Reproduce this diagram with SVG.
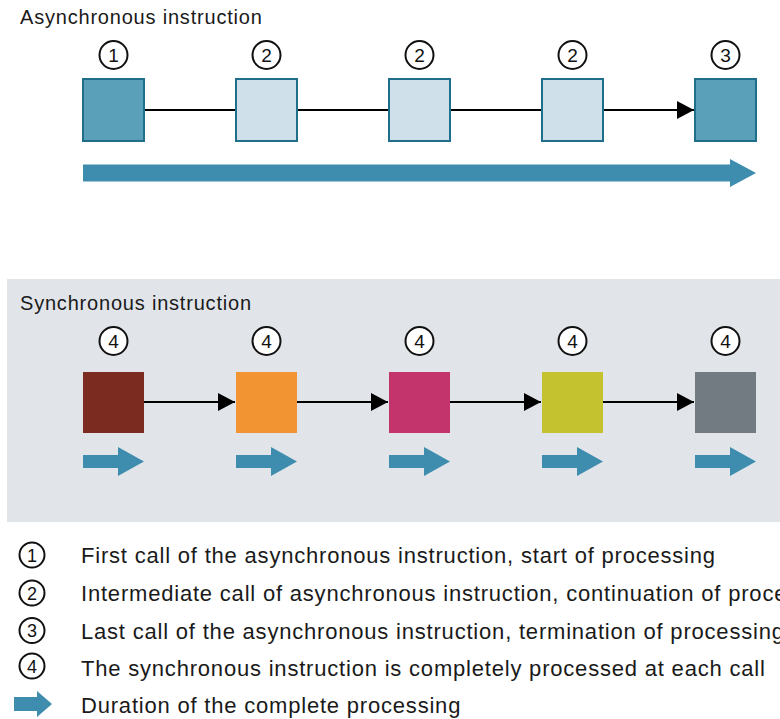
<svg xmlns="http://www.w3.org/2000/svg" width="780" height="719" viewBox="0 0 780 719">
<defs>
<style>
.t{font-family:"Liberation Sans",Arial,sans-serif;fill:#1a1a1a}
.title{font-size:20px;letter-spacing:0.8px}
.leg{font-size:22px;letter-spacing:0.8px}
.num{font-family:"Liberation Sans",Arial,sans-serif;font-size:19px;fill:#111;text-anchor:middle}
.lnum{font-family:"Liberation Sans",Arial,sans-serif;font-size:18px;fill:#111;text-anchor:middle}
.circ{fill:#fff;stroke:#111;stroke-width:2}
.lcirc{fill:none;stroke:#111;stroke-width:2}
.dark{fill:#5aa0b9;stroke:#1f6e8c;stroke-width:2}
.light{fill:#cfe0ea;stroke:#1f6e8c;stroke-width:2}
.dur{fill:#3f8dae}
.conn{stroke:#000;stroke-width:2;fill:none}
</style>
<marker id="ahb" viewBox="0 0 17 18" refX="17" refY="9" markerWidth="17" markerHeight="18" orient="auto" markerUnits="userSpaceOnUse">
<path d="M0,0 L17,9 L0,18 Z" fill="#000"/>
</marker>
</defs>
<rect x="0" y="0" width="780" height="719" fill="#fff"/>
<rect x="7" y="279" width="773" height="243" fill="#e1e5ea"/>
<text class="t title" x="20" y="24">Asynchronous instruction</text>
<text class="t title" x="20" y="310">Synchronous instruction</text>

<g id="connectors">
<line class="conn" x1="144" y1="110" x2="236" y2="110"/>
<line class="conn" x1="297" y1="110" x2="389" y2="110"/>
<line class="conn" x1="450" y1="110" x2="542" y2="110"/>
<line class="conn" x1="603" y1="110" x2="694" y2="110" marker-end="url(#ahb)"/>
<line class="conn" x1="144" y1="402" x2="235" y2="402" marker-end="url(#ahb)"/>
<line class="conn" x1="297" y1="402" x2="388" y2="402" marker-end="url(#ahb)"/>
<line class="conn" x1="450" y1="402" x2="541" y2="402" marker-end="url(#ahb)"/>
<line class="conn" x1="603" y1="402" x2="694" y2="402" marker-end="url(#ahb)"/>
</g>

<g id="async1"><circle class="circ" cx="113.5" cy="55" r="14"/><text class="num" x="113.5" y="61.8">1</text><rect class="dark" x="83" y="79" width="61" height="62"/></g>
<g id="async2"><circle class="circ" cx="266.5" cy="55" r="14"/><text class="num" x="266.5" y="61.8">2</text><rect class="light" x="236" y="79" width="61" height="62"/></g>
<g id="async3"><circle class="circ" cx="419.5" cy="55" r="14"/><text class="num" x="419.5" y="61.8">2</text><rect class="light" x="389" y="79" width="61" height="62"/></g>
<g id="async4"><circle class="circ" cx="572.5" cy="55" r="14"/><text class="num" x="572.5" y="61.8">2</text><rect class="light" x="542" y="79" width="61" height="62"/></g>
<g id="async5"><circle class="circ" cx="725.5" cy="55" r="14"/><text class="num" x="725.5" y="61.8">3</text><rect class="dark" x="695" y="79" width="61" height="62"/></g>
<g id="asyncDuration"><path class="dur" d="M83,164.5 H730 V159 L756,173 L730,187 V181.5 H83 Z"/></g>

<g id="sync1"><circle class="circ" cx="113.5" cy="341" r="14"/><text class="num" x="113.5" y="347.8">4</text><rect x="83" y="372" width="61" height="61" fill="#7b2b1f"/><path class="dur" d="M83,455 H118 V447 L144,461.5 L118,476 V468 H83 Z"/></g>
<g id="sync2"><circle class="circ" cx="266.5" cy="341" r="14"/><text class="num" x="266.5" y="347.8">4</text><rect x="236" y="372" width="61" height="61" fill="#f39432"/><path class="dur" d="M236,455 H271 V447 L297,461.5 L271,476 V468 H236 Z"/></g>
<g id="sync3"><circle class="circ" cx="419.5" cy="341" r="14"/><text class="num" x="419.5" y="347.8">4</text><rect x="389" y="372" width="61" height="61" fill="#c2346b"/><path class="dur" d="M389,455 H424 V447 L450,461.5 L424,476 V468 H389 Z"/></g>
<g id="sync4"><circle class="circ" cx="572.5" cy="341" r="14"/><text class="num" x="572.5" y="347.8">4</text><rect x="542" y="372" width="61" height="61" fill="#c4c22f"/><path class="dur" d="M542,455 H577 V447 L603,461.5 L577,476 V468 H542 Z"/></g>
<g id="sync5"><circle class="circ" cx="725.5" cy="341" r="14"/><text class="num" x="725.5" y="347.8">4</text><rect x="695" y="372" width="61" height="61" fill="#737b82"/><path class="dur" d="M695,455 H730 V447 L756,461.5 L730,476 V468 H695 Z"/></g>

<g id="legend">
<circle class="lcirc" cx="32" cy="555" r="12.5"/><text class="lnum" x="32" y="561.5">1</text>
<text class="t leg" x="81" y="563">First call of the asynchronous instruction, start of processing</text>
<circle class="lcirc" cx="32" cy="593" r="12.5"/><text class="lnum" x="32" y="599.5">2</text>
<text class="t leg" x="81" y="601">Intermediate call of asynchronous instruction, continuation of processing</text>
<circle class="lcirc" cx="32" cy="630.5" r="12.5"/><text class="lnum" x="32" y="637">3</text>
<text class="t leg" x="81" y="639">Last call of the asynchronous instruction, termination of processing</text>
<circle class="lcirc" cx="32" cy="666" r="12.5"/><text class="lnum" x="32" y="672.5">4</text>
<text class="t leg" x="81" y="676">The synchronous instruction is completely processed at each call</text>
<path class="dur" d="M14,697 H37 V691 L52,704 L37,717 V711 H14 Z"/>
<text class="t leg" x="81" y="713">Duration of the complete processing</text>
</g>
</svg>
